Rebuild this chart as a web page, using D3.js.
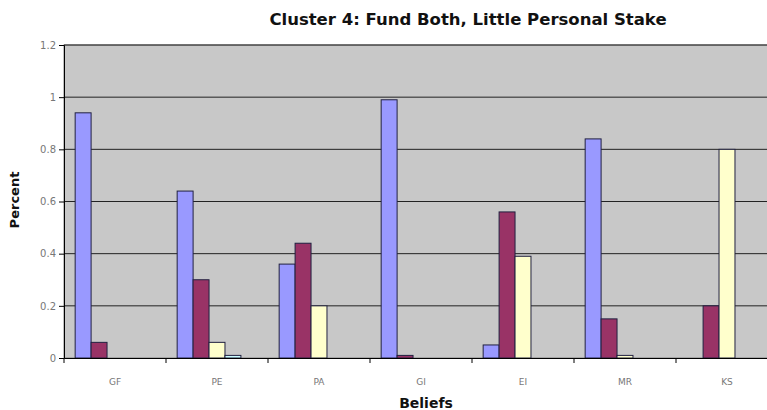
<!DOCTYPE html>
<html><head><meta charset="utf-8">
<script src="https://cdn.jsdelivr.net/npm/d3@7"></script>
<style>body{margin:0;background:#fff;}svg{display:block;}</style>
</head><body>
<script>
const categories = ["GF","PE","PA","GI","EI","MR","KS"];
const seriesNames = ["S1","S2","S3","S4","S5"];
const s1 = [0.94,0.64,0.36,0.99,0.05,0.84,0];
const s2 = [0.06,0.30,0.44,0.01,0.56,0.15,0.20];
const s3 = [0,0.06,0.20,0,0.39,0.01,0.80];
const s4 = [0,0.01,0,0,0,0,0];
const s5 = [0,0,0,0,0,0,0];
const yTicks = [0,0.2,0.4,0.6,0.8,1,1.2];
const colors = ["#9999FF","#993366","#FFFFCC","#CCFFFF","#660066"];

const W=767,H=410;
const m={left:64,top:45,right:-11,bottom:52};
const svg=d3.select("body").append("svg").attr("width",W).attr("height",H);
const x0=d3.scaleBand().domain(categories).range([m.left,W-m.right]).paddingInner(0).paddingOuter(0);
const x1=d3.scaleBand().domain(seriesNames).range([0,x0.bandwidth()]).paddingOuter(0.7).paddingInner(0);
const y=d3.scaleLinear().domain([0,1.2]).range([H-m.bottom,m.top]);

svg.append("rect").attr("x",m.left).attr("y",m.top).attr("width",W-m.right-m.left).attr("height",H-m.bottom-m.top).attr("fill","#C8C8C8").attr("stroke","#808080");

svg.append("g").selectAll("line").data(yTicks.filter(d=>d>0)).join("line")
 .attr("x1",m.left).attr("x2",W).attr("y1",d=>y(d)).attr("y2",d=>y(d)).attr("stroke","#222").attr("stroke-width",1);

const data=[s1,s2,s3,s4,s5];
const g=svg.append("g");
data.forEach((vals,si)=>{
  g.selectAll(null).data(vals.map((v,i)=>({c:categories[i],v}))).join("rect")
   .attr("x",d=>x0(d.c)+x1(seriesNames[si]))
   .attr("y",d=>y(d.v))
   .attr("width",x1.bandwidth())
   .attr("height",d=>y(0)-y(d.v))
   .attr("fill",colors[si]).attr("stroke","#202040").attr("stroke-width",1)
   .attr("display",d=>d.v>0?null:"none");
});

const ya=svg.append("g").attr("transform",`translate(${m.left},0)`)
 .call(d3.axisLeft(y).tickValues(yTicks).tickFormat(d=>d3.format("")(+d.toFixed(1))).tickSize(5));
ya.select(".domain").attr("stroke","#000");
ya.selectAll("text").attr("font-family","DejaVu Sans").attr("font-size",10).attr("fill","#777");

const xa=svg.append("g").attr("transform",`translate(0,${H-m.bottom})`)
 .call(d3.axisBottom(x0).tickSize(0).tickPadding(21));
xa.select(".domain").attr("stroke","#000");
xa.selectAll("text").attr("font-family","DejaVu Sans").attr("font-size",9).attr("fill","#777");
svg.append("g").selectAll("line").data(categories).join("line")
 .attr("x1",d=>x0(d)).attr("x2",d=>x0(d)).attr("y1",H-m.bottom).attr("y2",H-m.bottom+5).attr("stroke","#000");

svg.append("text").attr("x",468).attr("y",25).attr("text-anchor","middle")
 .attr("font-family","DejaVu Sans").attr("font-weight","bold").attr("font-size",16.5).attr("fill","#111")
 .text("Cluster 4: Fund Both, Little Personal Stake");
svg.append("text").attr("transform","translate(19,200) rotate(-90)").attr("text-anchor","middle")
 .attr("font-family","DejaVu Sans").attr("font-weight","bold").attr("font-size",13).attr("fill","#111").text("Percent");
svg.append("text").attr("x",426).attr("y",408).attr("text-anchor","middle")
 .attr("font-family","DejaVu Sans").attr("font-weight","bold").attr("font-size",14).attr("fill","#111").text("Beliefs");
</script>
</body></html>
